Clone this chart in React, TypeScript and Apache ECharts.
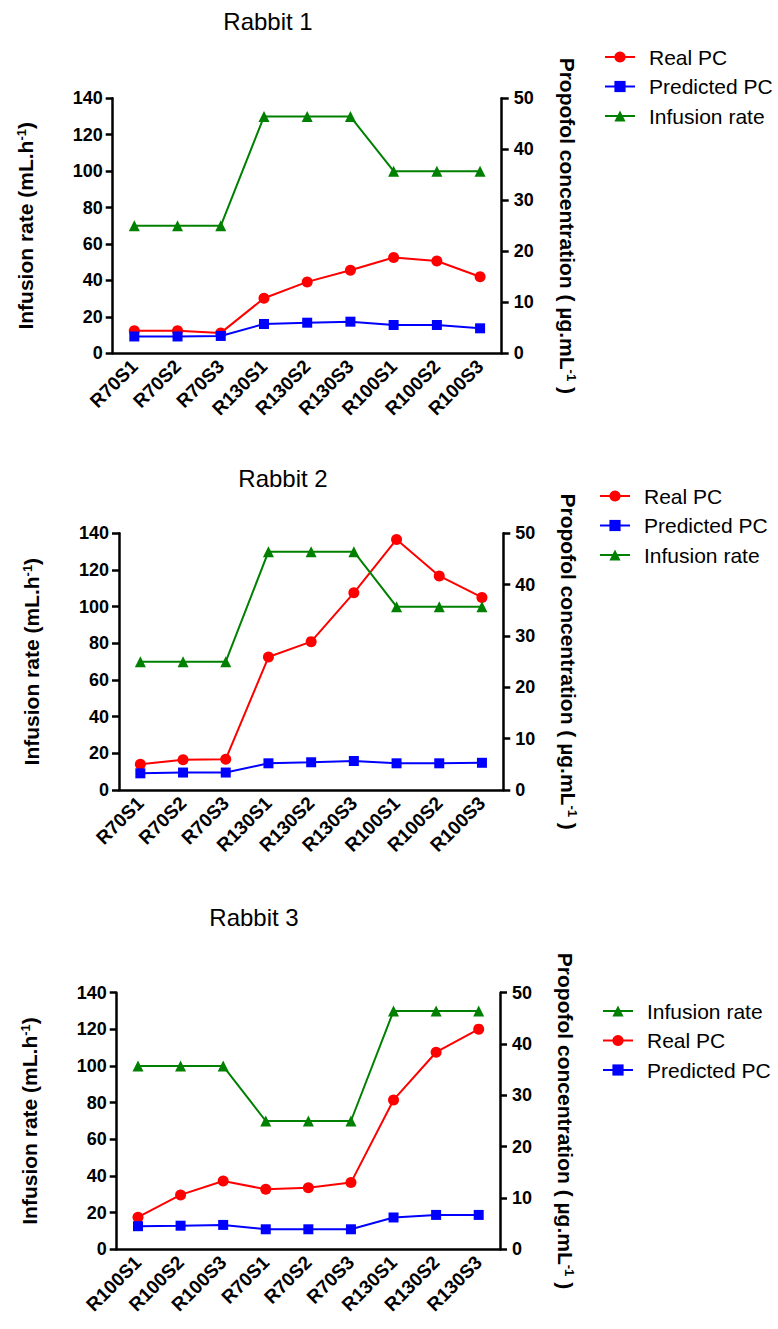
import React, { useEffect, useRef } from "react";
import * as echarts from "echarts";

const categoriesA = ["R70S1", "R70S2", "R70S3", "R130S1", "R130S2", "R130S3", "R100S1", "R100S2", "R100S3"];
const categoriesB = ["R100S1", "R100S2", "R100S3", "R70S1", "R70S2", "R70S3", "R130S1", "R130S2", "R130S3"];

// Infusion rate (mL.h-1), left axis
const rabbit1Infusion = [70, 70, 70, 130, 130, 130, 100, 100, 100];
const rabbit2Infusion = [70, 70, 70, 130, 130, 130, 100, 100, 100];
const rabbit3Infusion = [100, 100, 100, 70, 70, 70, 130, 130, 130];

// Propofol concentration (µg.mL-1), right axis
const rabbit1Real = [4.4, 4.4, 4.0, 10.8, 14.0, 16.3, 18.8, 18.1, 15.0];
const rabbit1Pred = [3.3, 3.3, 3.4, 5.75, 6.0, 6.2, 5.55, 5.55, 4.9];
const rabbit2Real = [5.0, 5.9, 6.0, 25.9, 28.9, 38.4, 48.8, 41.7, 37.5];
const rabbit2Pred = [3.25, 3.4, 3.4, 5.2, 5.4, 5.65, 5.2, 5.2, 5.3];
const rabbit3Real = [6.25, 10.6, 13.3, 11.7, 12.0, 13.0, 29.1, 38.4, 42.9];
const rabbit3Pred = [4.5, 4.6, 4.75, 3.9, 3.9, 3.9, 6.2, 6.7, 6.7];

const titles = ["Rabbit 1", "Rabbit 2", "Rabbit 3"];
const leftTicks = { min: 0, max: 140, interval: 20 };
const rightTicks = { min: 0, max: 50, interval: 10 };

const FONT = "Arial, 'Liberation Sans', sans-serif";

const panels = [
  {
    title: titles[0], titleX: 268, titleY: 9,
    grid: { left: 112.7, top: 98.3, width: 389, height: 255 },
    cats: categoriesA, inf: rabbit1Infusion, real: rabbit1Real, pred: rabbit1Pred,
    legend: { left: 604, top: 46.5, order: ["Real PC", "Predicted PC", "Infusion rate"] },
  },
  {
    title: titles[1], titleX: 283, titleY: 466,
    grid: { left: 119, top: 533.3, width: 384.3, height: 256.7 },
    cats: categoriesA, inf: rabbit2Infusion, real: rabbit2Real, pred: rabbit2Pred,
    legend: { left: 599, top: 485.5, order: ["Real PC", "Predicted PC", "Infusion rate"] },
  },
  {
    title: titles[2], titleX: 254, titleY: 905,
    grid: { left: 116.7, top: 992.7, width: 383.3, height: 256.6 },
    cats: categoriesB, inf: rabbit3Infusion, real: rabbit3Real, pred: rabbit3Pred,
    legend: { left: 602, top: 1000.5, order: ["Infusion rate", "Real PC", "Predicted PC"] },
  },
];

const axisLineStyle = { color: "#000", width: 2.5 };

export default function App() {
  const ref = useRef<HTMLDivElement>(null);
  useEffect(() => {
    if (!ref.current) return;
    const chart = echarts.init(ref.current, undefined, { renderer: "svg" });
    const title: any[] = [];
    const grid: any[] = [];
    const xAxis: any[] = [];
    const yAxis: any[] = [];
    const legend: any[] = [];
    const series: any[] = [];
    panels.forEach((p, i) => {
      title.push({
        text: p.title, left: p.titleX, top: p.titleY, textAlign: "center", padding: 0,
        textStyle: { fontFamily: FONT, fontSize: 24, fontWeight: "normal", color: "#000" },
      });
      grid.push({ ...p.grid, containLabel: false });
      xAxis.push({
        type: "category", gridIndex: i, data: p.cats, boundaryGap: true,
        axisLine: { onZero: false, lineStyle: axisLineStyle },
        axisTick: { alignWithLabel: true, length: 7, lineStyle: { color: "#000", width: 2.5 } },
        axisLabel: { rotate: 45, margin: 10, interval: 0, fontFamily: FONT, fontSize: 19, fontWeight: "bold", color: "#000" },
        splitLine: { show: false },
      });
      yAxis.push({
        type: "value", gridIndex: i, position: "left", ...leftTicks,
        name: "{b|Infusion rate (mL.h}{s|-1}{b|)}",
        nameLocation: "middle", nameGap: 77, nameRotate: 90,
        nameTextStyle: {
          rich: {
            b: { fontFamily: FONT, fontSize: 21, fontWeight: "bold", color: "#000" },
            s: { fontFamily: FONT, fontSize: 13, fontWeight: "bold", color: "#000", verticalAlign: "top" },
          },
        },
        axisLine: { show: true, lineStyle: axisLineStyle },
        axisTick: { show: true, length: 7, lineStyle: { color: "#000", width: 2.5 } },
        axisLabel: { margin: 10, fontFamily: FONT, fontSize: 18, fontWeight: "bold", color: "#000" },
        splitLine: { show: false },
      });
      yAxis.push({
        type: "value", gridIndex: i, position: "right", ...rightTicks,
        name: "{b|Propofol concentration ( µg.mL}{s|-1}{b| )}",
        nameLocation: "middle", nameGap: 55, nameRotate: -90,
        nameTextStyle: {
          rich: {
            b: { fontFamily: FONT, fontSize: 21, fontWeight: "bold", color: "#000" },
            s: { fontFamily: FONT, fontSize: 13, fontWeight: "bold", color: "#000", verticalAlign: "top" },
          },
        },
        axisLine: { show: true, lineStyle: axisLineStyle },
        axisTick: { show: true, length: 7, lineStyle: { color: "#000", width: 2.5 } },
        axisLabel: { margin: 12, fontFamily: FONT, fontSize: 18, fontWeight: "bold", color: "#000" },
        splitLine: { show: false },
      });
      legend.push({
        left: p.legend.left, top: p.legend.top, orient: "vertical", padding: 0,
        itemWidth: 30, itemHeight: 14, itemGap: 8.5,
        data: p.legend.order,
        textStyle: { fontFamily: FONT, fontSize: 21, color: "#000", lineHeight: 21, padding: [0, 0, 0, 9] },
      });
      const xi = i;
      const yl = i * 2;
      const yr = i * 2 + 1;
      series.push({
        name: "Real PC", type: "line", xAxisIndex: xi, yAxisIndex: yr, data: p.real,
        symbol: "circle", symbolSize: 11, color: "#ff0000",
        lineStyle: { color: "#ff0000", width: 2 }, itemStyle: { color: "#ff0000" },
      });
      series.push({
        name: "Predicted PC", type: "line", xAxisIndex: xi, yAxisIndex: yr, data: p.pred,
        symbol: "rect", symbolSize: 10, color: "#0000ff",
        lineStyle: { color: "#0000ff", width: 2 }, itemStyle: { color: "#0000ff" },
      });
      series.push({
        name: "Infusion rate", type: "line", xAxisIndex: xi, yAxisIndex: yl, data: p.inf,
        symbol: "triangle", symbolSize: 11, color: "#008000",
        lineStyle: { color: "#008000", width: 2 }, itemStyle: { color: "#008000" },
      });
    });
    chart.setOption({
      animation: false,
      backgroundColor: "#fff",
      title, grid, xAxis, yAxis, legend, series,
    });
    return () => chart.dispose();
  }, []);
  return (
    <div
      ref={ref}
      style={{ position: "absolute", left: 0, top: 0, width: 778, height: 1329, background: "#fff" }}
    />
  );
}
